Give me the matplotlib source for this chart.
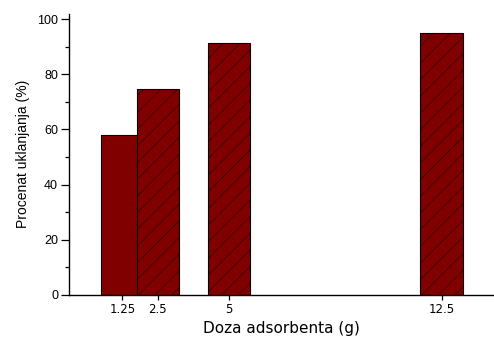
import matplotlib
matplotlib.use("Agg")
import matplotlib.pyplot as plt
from matplotlib.ticker import MultipleLocator

# adsorbent dose (g) and removal percentage (%)
doses = [1.25, 2.5, 5, 12.5]
removal = [58.0, 74.6, 91.3, 94.8]
hatches = ["", "//", "//", "//"]
dose_labels = ["1.25", "2.5", "5", "12.5"]

plt.rcParams["font.family"] = ["Liberation Sans", "DejaVu Sans"]
plt.rcParams["hatch.linewidth"] = 0.4

fig = plt.figure(figsize=(4.94, 3.39), dpi=100)
ax = fig.add_axes([0.1387, 0.1298, 0.8613, 0.830])

for i, (x, y, h) in enumerate(zip(doses, removal, hatches)):
    # fill + faint hatch, then the black outline; later bars sit on top
    ax.bar(x, y, width=1.5, color="#800000", edgecolor="#1e0000",
           linewidth=0, hatch=h, zorder=2 + 2 * i)
    ax.bar(x, y, width=1.5, fill=False, edgecolor="black",
           linewidth=0.8, zorder=3 + 2 * i)

ax.set_xlim(-0.65, 14.35)
ax.set_ylim(0, 102)
ax.set_xticks(doses)
ax.set_xticklabels(dose_labels, family="DejaVu Sans")
ax.yaxis.set_major_locator(MultipleLocator(20))
ax.yaxis.set_minor_locator(MultipleLocator(10))

for side in ("top", "right"):
    ax.spines[side].set_visible(False)
for side in ("left", "bottom"):
    ax.spines[side].set_linewidth(1.0)
    ax.spines[side].set_zorder(20)

ax.tick_params(axis="y", which="major", direction="out", length=5.5,
               width=0.9, labelsize=9, pad=2)
ax.tick_params(axis="y", which="minor", direction="out", length=3,
               width=0.9)
ax.tick_params(axis="x", which="major", direction="out", length=3.5,
               width=0.9, labelsize=8.5, pad=2)

ax.set_xlabel("Doza adsorbenta (g)", fontsize=11, family="DejaVu Sans",
              labelpad=4)
ax.set_ylabel("Procenat uklanjanja (%)", fontsize=10, labelpad=5)

fig.savefig("out.png", dpi=100)
